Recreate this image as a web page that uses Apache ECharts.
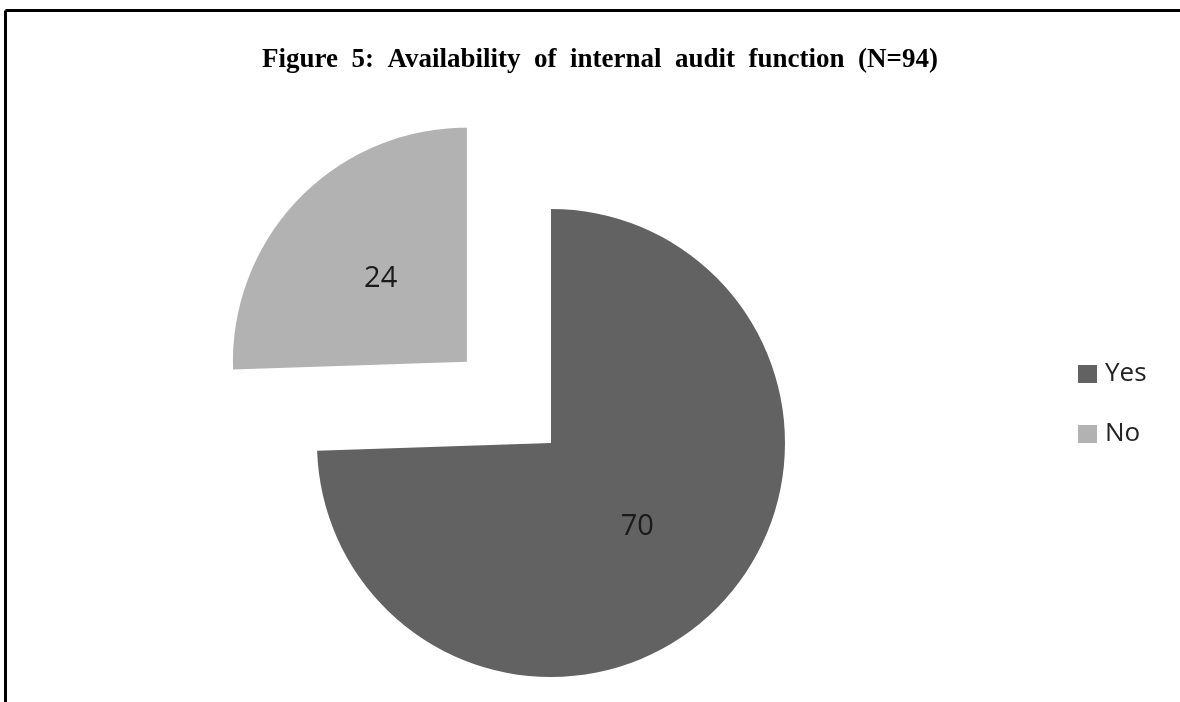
<!DOCTYPE html>
<html>
<head>
<meta charset="utf-8">
<script src="https://cdn.jsdelivr.net/npm/echarts@6/dist/echarts.min.js"></script>
<style>
  html, body { margin: 0; padding: 0; background: #ffffff; }
  #chart { width: 1180px; height: 702px; }
</style>
</head>
<body>
<div id="chart"></div>
<script>
// Responses to "internal audit function available?"
const categories = ['Yes', 'No'];
const counts = [70, 24];
const sliceColors = ['#626262', '#b2b2b2'];
const titleWords = ['Figure', '5:', 'Availability', 'of', 'internal', 'audit', 'function', '(N=94)'];

const chart = echarts.init(document.getElementById('chart'), null, { renderer: 'canvas' });

const pieData = categories.map((name, i) => ({
  name: name,
  value: counts[i],
  selected: name === 'No',
  itemStyle: { color: sliceColors[i] }
}));

chart.setOption({
  backgroundColor: '#ffffff',
  animation: false,
  title: {
    // justified-looking title: widened word gaps
    text: titleWords.join('\u2002'),
    left: 595,
    textAlign: 'center',
    top: 42,
    textStyle: {
      fontFamily: '"Liberation Serif", "Times New Roman", serif',
      fontWeight: 'bold',
      fontSize: 27,
      color: '#000000'
    }
  },
  legend: {
    orient: 'vertical',
    left: 1073,
    top: 356,
    itemWidth: 19,
    itemHeight: 18,
    itemGap: 34,
    icon: 'rect',
    selectedMode: false,
    textStyle: {
      fontFamily: '"Open Sans", "Noto Sans", sans-serif',
      fontSize: 26,
      color: '#222222',
      padding: [0, 0, 0, 3]
    },
    data: categories
  },
  graphic: [
    { type: 'line', shape: { x1: 5.5, y1: 10.5, x2: 1180, y2: 10.5 }, style: { stroke: '#000', lineWidth: 3 } },
    { type: 'line', shape: { x1: 5.5, y1: 10.5, x2: 5.5, y2: 702 }, style: { stroke: '#000', lineWidth: 3 } }
  ],
  series: [{
    type: 'pie',
    center: [551, 443],
    radius: 234,
    startAngle: 90,
    clockwise: true,
    selectedMode: 'single',
    selectedOffset: 117,
    avoidLabelOverlap: false,
    label: {
      show: true,
      position: 'inner',
      formatter: '{c}',
      fontFamily: '"Open Sans", "Noto Sans", sans-serif',
      fontSize: 29,
      color: '#1a1a1a'
    },
    labelLine: { show: false },
    emphasis: { disabled: true },
    data: pieData
  }]
});
</script>
</body>
</html>
